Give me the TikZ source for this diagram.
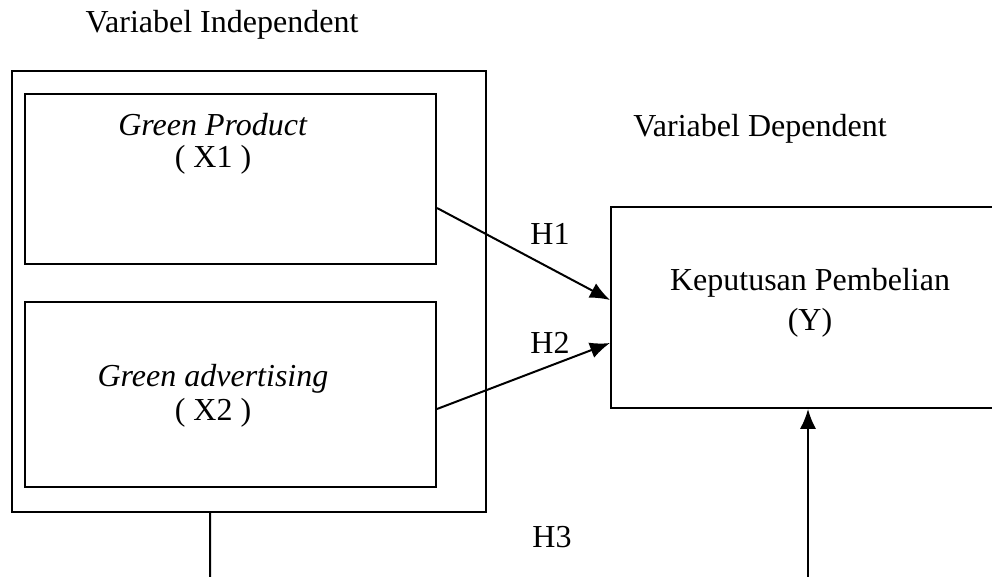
\documentclass[tikz,border=0pt]{standalone}
\usepackage{fontspec}
\setmainfont{Liberation Serif}
\usetikzlibrary{arrows.meta}

\tikzset{
  box/.style={draw, line width=0.8pt, inner sep=0pt},
  txt/.style={align=center, font=\fontsize{12.8}{13}\selectfont},
  link/.style={line width=0.8pt, -{Latex[length=8pt,width=6.5pt]}}
}

\begin{document}
\begin{tikzpicture}[x=0.4pt,y=-0.4pt]
\useasboundingbox (0,0) rectangle (992,577);
% independent side
\node[txt] (indep) at (222,25) {Variabel Independent};
\node[box, minimum width=189.6pt, minimum height=176.4pt] (outer) at (249,291.5) {};
\node[box, minimum width=164.4pt, minimum height=68pt] (x1) at (230.5,179) {};
\node[box, minimum width=164.4pt, minimum height=74pt] (x2) at (230.5,394.5) {};
\node[txt] (x1txt) at (213,144) {\textit{Green Product}\\( X1 )};
\node[txt, font=\fontsize{12.8}{13.8}\selectfont] (x2txt) at (213,396) {\textit{Green advertising}\\( X2 )};
% dependent side
\node[txt] (dep) at (760,129) {Variabel Dependent};
\node[box, minimum width=160pt, minimum height=80.4pt] (y) at (811,307.5) {};
\node[txt, font=\fontsize{12.8}{16}\selectfont] (ytxt) at (810,303) {Keputusan Pembelian\\(Y)};
% hypotheses
\draw[link] ([yshift=22.8pt]x1.south east) -- ([yshift=3pt]y.west);
\draw[link] ([yshift=31.6pt]x2.south east) -- ([yshift=-14.2pt]y.west);
\node[txt] (h1) at (550,234) {H1};
\node[txt] (h2) at (550,343) {H2};
\node[txt] (h3) at (552,537) {H3};
\coordinate (bl) at (210,577);
\coordinate (br) at (808,577);
\draw[line width=0.8pt] ([xshift=-15.6pt]outer.south) -- (bl);
\draw[link] (br) -- (y.south -| br);
\end{tikzpicture}
\end{document}
